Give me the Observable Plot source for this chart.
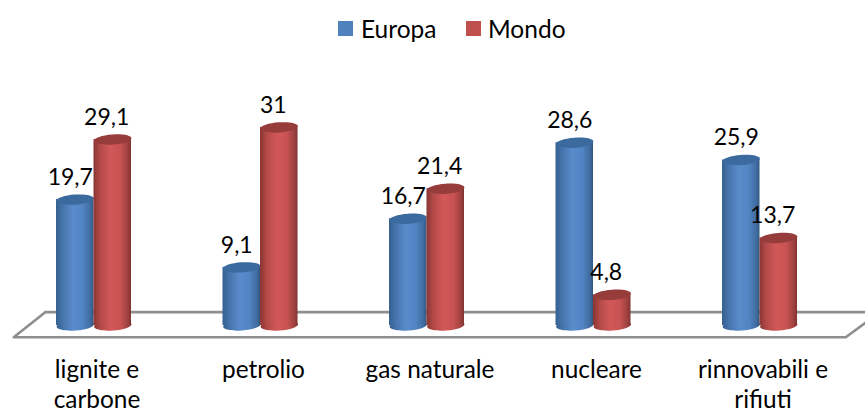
<!DOCTYPE html>
<html><head><meta charset="utf-8">
<script src="https://cdn.jsdelivr.net/npm/d3@7"></script>
<script src="https://cdn.jsdelivr.net/npm/@observablehq/plot@0.6"></script>
<style>
html,body{margin:0;padding:0;background:#fff;width:865px;overflow:hidden}
#legend{height:60px;position:relative;font:24.5px Lato,sans-serif;color:#000}
#legend span{position:absolute;top:14px;line-height:30px}
#legend i{position:absolute;top:21px;width:15px;height:15px}
svg{display:block;overflow:visible}
</style></head><body>
<div id="legend">
<i style="left:338px;background:#4f81bd"></i><span style="left:361px">Europa</span>
<i style="left:466px;background:#c0504d"></i><span style="left:488px">Mondo</span>
</div>
<div id="chart"></div>
<script>
const categories = ["lignite e carbone","petrolio","gas naturale","nucleare","rinnovabili e rifiuti"];
const europa = [19.7, 9.1, 16.7, 28.6, 25.9];
const mondo = [29.1, 31, 21.4, 4.8, 13.7];

const half = 0.2252;
const table = (vals, side) => vals.map((v, i) => ({
  v, i, x1: side < 0 ? i - half : i, x2: side < 0 ? i : i + half, c: i + side * half / 2
}));
const E = table(europa, -1), M = table(mondo, 1);
const fmt = v => String(v).replace(".", ",");

const ellipse = {
  draw(ctx, size) {
    const r = Math.sqrt(size / Math.PI), ry = r * 0.27, k = 0.5523, t = -4 * Math.PI / 180;
    const p = (x, y) => [x * Math.cos(t) - y * Math.sin(t), x * Math.sin(t) + y * Math.cos(t)];
    ctx.moveTo(...p(r, 0));
    ctx.bezierCurveTo(...p(r, k * ry), ...p(k * r, ry), ...p(0, ry));
    ctx.bezierCurveTo(...p(-k * r, ry), ...p(-r, k * ry), ...p(-r, 0));
    ctx.bezierCurveTo(...p(-r, -k * ry), ...p(-k * r, -ry), ...p(0, -ry));
    ctx.bezierCurveTo(...p(k * r, -ry), ...p(r, -k * ry), ...p(r, 0));
    ctx.closePath();
  }
};
const cyl = (rows, grad, cap) => [
  Plot.dot(rows, {x: "c", y: () => 0, r: 18.75, symbol: ellipse, fill: grad, stroke: "none"}),
  Plot.rect(rows, {x1: "x1", x2: "x2", y1: () => 0, y2: "v", fill: grad, inset: 0}),
  Plot.dot(rows, {x: "c", y: "v", r: 18.75, symbol: ellipse, fill: cap, stroke: "none"})
];
const floorStroke = {stroke: "#8e8e8e", strokeWidth: 2.6};

const chart = Plot.plot({
  width: 865, height: 352,
  marginTop: 9.4, marginBottom: 87, marginLeft: 10.25, marginRight: 22.25,
  style: {background: "transparent", fontFamily: "Lato, sans-serif"},
  x: {type: "linear", domain: [-0.5, 4.5]},
  y: {type: "linear", domain: [0, 40], axis: null},
  marks: [
    Plot.line([[-0.291, 2.1], [4.637, 2.1]], {x: d => d[0], y: d => d[1], ...floorStroke}),
    Plot.line([[4.637, 0.5], [4.515, -1.85], [-0.482, -1.85], [-0.291, 2.1]], {x: d => d[0], y: d => d[1], ...floorStroke}),
    ...cyl(E, "url(#gb)", "#3b6a9e"),
    ...cyl(M, "url(#gr)", "#963d3b"),
    Plot.axisX({
      ticks: d3.range(categories.length), tickFormat: i => categories[i],
      label: null, tickSize: 0, tickPadding: 32, dx: 3, fontSize: 24.4, lineWidth: 6.9, lineHeight: 1.2,
      fill: "#000", anchor: "bottom"
    }),
    Plot.text(E, {x: "c", y: "v", text: d => fmt(d.v), dx: -5, dy: -22, fontSize: 23, fill: "#000"}),
    Plot.text(M, {x: "c", y: "v", text: d => fmt(d.v), dx: -6, dy: -22, fontSize: 23, fill: "#000"})
  ]
});
const ns = "http://www.w3.org/2000/svg";
const defs = document.createElementNS(ns, "defs");
const grad = (id, stops) => {
  const g = document.createElementNS(ns, "linearGradient");
  g.setAttribute("id", id);
  g.setAttribute("x1", "0"); g.setAttribute("x2", "1"); g.setAttribute("y1", "0"); g.setAttribute("y2", "0");
  stops.forEach(([o, c]) => {
    const s = document.createElementNS(ns, "stop");
    s.setAttribute("offset", o); s.setAttribute("stop-color", c); g.appendChild(s);
  });
  defs.appendChild(g);
};
grad("gb", [[0, "#35608f"], [0.18, "#4674ac"], [0.45, "#5a8ccb"], [0.72, "#5184c2"], [0.92, "#3f6b9f"], [1, "#32587f"]]);
grad("gr", [[0, "#8a3533"], [0.18, "#b34a48"], [0.45, "#d25858"], [0.72, "#c85352"], [0.92, "#9c403e"], [1, "#803230"]]);
chart.insertBefore(defs, chart.firstChild);
document.getElementById("chart").appendChild(chart);
</script>
</body></html>
